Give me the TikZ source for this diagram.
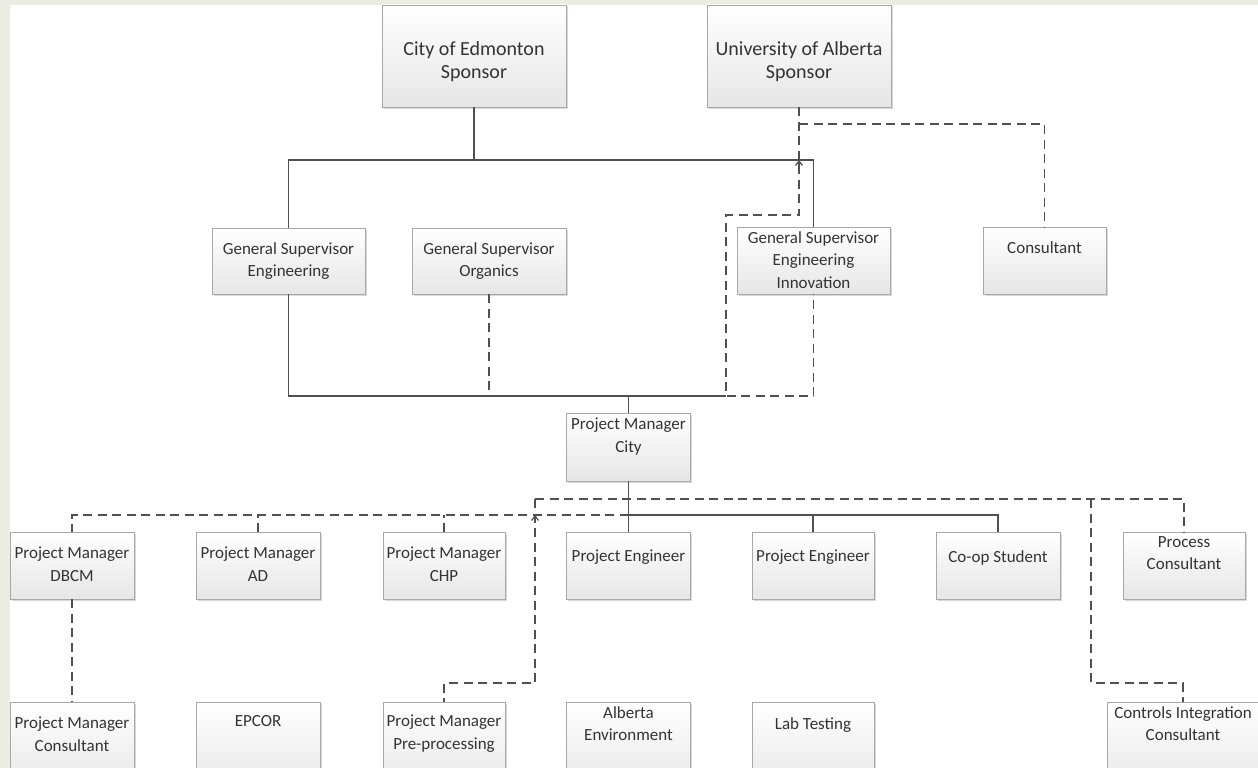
\documentclass[tikz,border=0pt]{standalone}
\usepackage{fontspec}
\setmainfont{Carlito}
\usetikzlibrary{shadows,arrows.meta}
\definecolor{strip}{HTML}{EAEDE2}
\definecolor{txtc}{HTML}{333333}
\definecolor{linec}{HTML}{505050}
\definecolor{boxline}{HTML}{A8A8A8}
\definecolor{boxbot}{HTML}{E6E6E6}
\tikzset{
 box/.style={draw=boxline, line width=0.9pt, top color=white, bottom color=boxbot, anchor=north west, inner sep=0pt, outer sep=0pt, drop shadow={shadow xshift=1.5pt, shadow yshift=-1.5pt, opacity=0.3, fill=gray}},
 lbl/.style={anchor=north, align=center, inner sep=0pt, text=txtc, font=\fontsize{17}{22.5}\selectfont},
 big/.style={lbl, font=\fontsize{20}{23}\selectfont},
 solidc/.style={draw=linec, line width=1.9pt},
 dashc/.style={draw=linec, line width=1.7pt, dash pattern=on 9pt off 5.5pt},
 tip/.style={draw=linec, line width=1.2pt, -{Straight Barb[length=4.5pt,width=7pt]}},
}
\begin{document}
\begin{tikzpicture}[x=1pt,y=-1pt]
\fill[strip] (0,0) rectangle (1258,768);
\fill[white] (10,5) rectangle (1258,768);
\useasboundingbox (0,0) rectangle (1258,768);
\clip (0,0) rectangle (1258,768);

% boxes
\node[box, minimum width=184pt, minimum height=102pt] (coe) at (382,5) {};
\node[box, minimum width=184pt, minimum height=102pt] (uoa) at (707,5) {};
\node[box, minimum width=153pt, minimum height=66pt] (gse) at (212,228) {};
\node[box, minimum width=154pt, minimum height=66pt] (gso) at (412,228) {};
\node[box, minimum width=153pt, minimum height=67pt] (gsi) at (737,227) {};
\node[box, minimum width=123pt, minimum height=67pt] (con) at (983,227) {};
\node[box, minimum width=124pt, minimum height=68pt] (pmc) at (566.5,413) {};
\node[box, minimum width=124pt, minimum height=67pt] (dbcm) at (10,532) {};
\node[box, minimum width=124pt, minimum height=67pt] (ad) at (196,532) {};
\node[box, minimum width=122pt, minimum height=67pt] (chp) at (383,532) {};
\node[box, minimum width=124pt, minimum height=67pt] (pe1) at (566.5,532) {};
\node[box, minimum width=122pt, minimum height=67pt] (pe2) at (752,532) {};
\node[box, minimum width=124pt, minimum height=67pt] (coop) at (936,532) {};
\node[box, minimum width=122pt, minimum height=67pt] (proc) at (1123,532) {};
\node[box, minimum width=124pt, minimum height=90pt] (pmcons) at (10,702) {};
\node[box, minimum width=124pt, minimum height=90pt] (epcor) at (196,702) {};
\node[box, minimum width=122pt, minimum height=90pt] (pre) at (383,702) {};
\node[box, minimum width=124pt, minimum height=90pt] (alb) at (566.5,702) {};
\node[box, minimum width=122pt, minimum height=90pt] (lab) at (752,702) {};
\node[box, minimum width=152pt, minimum height=90pt] (ctrl) at (1107,702) {};

% texts
\node[big] (t-coe) at (474,41) {City of Edmonton\\Sponsor};
\node[big] (t-uoa) at (799,41) {University of Alberta\\Sponsor};
\node[lbl] (t-gse) at (288.5,242) {General Supervisor\\Engineering};
\node[lbl] (t-gso) at (489,242) {General Supervisor\\Organics};
\node[lbl] (t-gsi) at (813.5,231) {General Supervisor\\Engineering\\Innovation};
\node[lbl] (t-con) at (1044.5,241) {Consultant};
\node[lbl] (t-pmc) at (628.5,418) {Project Manager\\City};
\node[lbl] (t-dbcm) at (72,547) {Project Manager\\DBCM};
\node[lbl] (t-ad) at (258,547) {Project Manager\\AD};
\node[lbl] (t-chp) at (444,547) {Project Manager\\CHP};
\node[lbl] (t-pe1) at (628.5,550) {Project Engineer};
\node[lbl] (t-pe2) at (813,550) {Project Engineer};
\node[lbl] (t-coop) at (998,550) {Co-op Student};
\node[lbl] (t-proc) at (1184,536) {Process\\Consultant};
\node[lbl] (t-pmcons) at (72,717) {Project Manager\\Consultant};
\node[lbl] (t-epcor) at (258,715) {EPCOR};
\node[lbl] (t-pre) at (444,715) {Project Manager\\Pre-processing};
\node[lbl] (t-alb) at (628.5,706) {Alberta\\Environment};
\node[lbl] (t-lab) at (813,717) {Lab Testing};
\node[lbl] (t-ctrl) at (1183,706) {Controls Integration\\Consultant};

% routing points
\coordinate (b0) at (799,124);
\coordinate (b1) at (474,160);
\coordinate (b2) at (628.5,396);
\coordinate (k1) at (726,215);
\coordinate (b3) at (628.5,499);
\coordinate (b4) at (628.5,515);
\coordinate (k2) at (535,683);
\coordinate (k3) at (1091,683);

% upper connectors
\draw[solidc] (coe.south) -- (coe.south |- b1);
\draw[solidc] (gse.north) -- (gse.north |- b1) -- (gsi.north |- b1) -- (gsi.north);
\draw[solidc] (gse.south) -- (gse.south |- b2) -- (k1 |- b2);
\draw[solidc] (pmc.north) -- (pmc.north |- b2);
\draw[dashc] (gso.south) -- (gso.south |- b2);
\draw[dashc] (uoa.south) -- (uoa.south |- k1) -- (k1) -- (k1 |- b2) -- (gsi.south |- b2) -- (gsi.south);
\draw[dashc] (uoa.south |- b0) -| (con.north);
\draw[tip] ([yshift=-6pt]uoa.south |- b1) -- (uoa.south |- b1);

% lower connectors
\draw[solidc] (pmc.south) -- (pmc.south |- b4) -- (coop.north |- b4) -- (coop.north);
\draw[solidc] (pmc.south |- b4) -- (pe1.north);
\draw[solidc] (pe2.north) -- (pe2.north |- b4);
\draw[dashc] (pmc.south |- b4) -- (dbcm.north |- b4) -- (dbcm.north);
\draw[dashc] (ad.north) -- (ad.north |- b4);
\draw[dashc] (chp.north) -- (chp.north |- b4);
\draw[dashc] (dbcm.south) -- (pmcons.north);
\draw[dashc] (k2 |- b3) -- (proc.north |- b3) -- (proc.north);
\draw[dashc] (k2 |- b3) -- (k2) -- (pre.north |- k2) -- (pre.north);
\draw[dashc] (k3 |- b3) -- (k3) -- (ctrl.north |- k3) -- (ctrl.north);
\draw[tip] ([yshift=-6pt]k2 |- b4) -- (k2 |- b4);
\end{tikzpicture}
\end{document}
